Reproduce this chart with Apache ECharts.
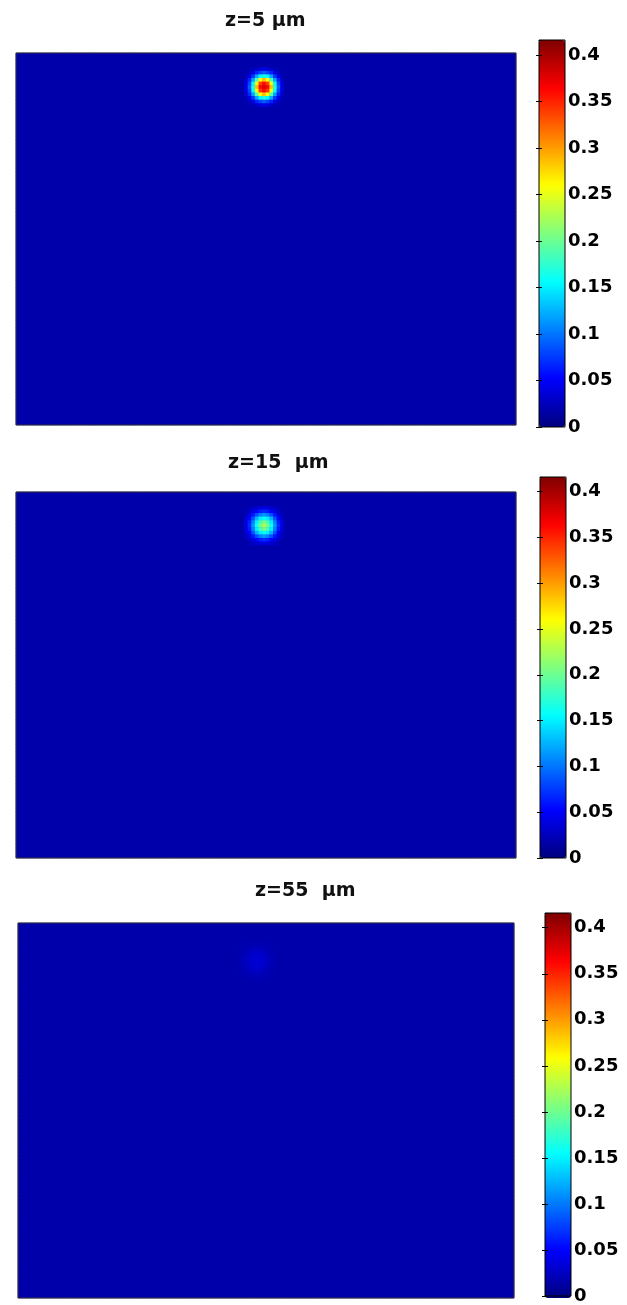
<!DOCTYPE html>
<html>
<head>
<meta charset="utf-8">
<script src="https://cdn.jsdelivr.net/npm/echarts@6/dist/echarts.min.js"></script>
<style>
  html, body { margin: 0; padding: 0; background: #fff; }
  #chart { width: 627px; height: 1305px; }
</style>
</head>
<body>
<div id="chart"></div>
<script>
  // field intensity at three propagation distances
  const titles = ['z=5 µm', 'z=15  µm', 'z=55  µm'];
  const tickLabels = ['0', '0.05', '0.1', '0.15', '0.2', '0.25', '0.3', '0.35', '0.4'];
  const colorMax = 0.416;
  const cols = 138;
  const rows = 103;
  const background = 0.018;
  // cell (column, row) where each 11x11 spot patch is centred
  const spotCentres = [[68, 9], [68, 9], [66, 10]];

  const spot5 = [
    [.018, .020, .024, .030, .038, .040, .038, .030, .024, .020, .018],
    [.020, .025, .040, .065, .080, .090, .080, .065, .040, .025, .020],
    [.024, .040, .075, .120, .155, .170, .155, .120, .075, .040, .024],
    [.030, .065, .120, .190, .260, .285, .260, .190, .120, .065, .030],
    [.038, .080, .155, .260, .340, .360, .340, .260, .155, .080, .038],
    [.040, .090, .170, .285, .360, .380, .360, .285, .170, .090, .040],
    [.038, .080, .155, .260, .340, .360, .340, .260, .155, .080, .038],
    [.030, .065, .120, .190, .260, .285, .260, .190, .120, .065, .030],
    [.024, .040, .075, .120, .155, .170, .155, .120, .075, .040, .024],
    [.020, .025, .040, .065, .080, .090, .080, .065, .040, .025, .020],
    [.018, .020, .024, .030, .038, .040, .038, .030, .024, .020, .018]
  ];
  const spot15 = [
    [.018, .021, .026, .032, .038, .040, .038, .032, .026, .021, .018],
    [.021, .028, .040, .052, .063, .068, .063, .052, .040, .028, .021],
    [.026, .040, .060, .085, .105, .115, .105, .085, .060, .040, .026],
    [.032, .052, .085, .125, .150, .160, .150, .125, .085, .052, .032],
    [.038, .063, .105, .150, .185, .205, .185, .150, .105, .063, .038],
    [.040, .068, .115, .160, .205, .225, .205, .160, .115, .068, .040],
    [.038, .063, .105, .150, .185, .205, .185, .150, .105, .063, .038],
    [.032, .052, .085, .125, .150, .160, .150, .125, .085, .052, .032],
    [.026, .040, .060, .085, .105, .115, .105, .085, .060, .040, .026],
    [.021, .028, .040, .052, .063, .068, .063, .052, .040, .028, .021],
    [.018, .021, .026, .032, .038, .040, .038, .032, .026, .021, .018]
  ];
  const spot55 = [
    [.018, .018, .019, .019, .020, .020, .020, .019, .019, .018, .018],
    [.018, .019, .020, .021, .022, .023, .022, .021, .020, .019, .018],
    [.019, .020, .022, .024, .026, .027, .026, .024, .022, .020, .019],
    [.019, .021, .024, .028, .030, .031, .030, .028, .024, .021, .019],
    [.020, .022, .026, .030, .033, .034, .033, .030, .026, .022, .020],
    [.020, .023, .027, .031, .034, .035, .034, .031, .027, .023, .020],
    [.020, .022, .026, .030, .033, .034, .033, .030, .026, .022, .020],
    [.019, .021, .024, .028, .030, .031, .030, .028, .024, .021, .019],
    [.019, .020, .022, .024, .026, .027, .026, .024, .022, .020, .019],
    [.018, .019, .020, .021, .022, .023, .022, .021, .020, .019, .018],
    [.018, .018, .019, .019, .020, .020, .020, .019, .019, .018, .018]
  ];
  const spots = [spot5, spot15, spot55];

  const jet = ['#00007f', '#0000ff', '#007fff', '#00ffff', '#7fff7f', '#ffff00', '#ff7f00', '#ff0000', '#7f0000'];

  // pixel layout of each panel
  const panels = [
    { map: [16, 53, 500, 372], bar: [539, 40, 26, 387], title: [225, 10] },
    { map: [16, 492, 500, 366], bar: [540, 477, 26, 381], title: [228, 452] },
    { map: [18, 923, 496, 375], bar: [545, 913, 26, 385], title: [255, 880] }
  ];

  function buildData(k) {
    const spot = spots[k];
    const [cx, cy] = spotCentres[k];
    const half = (spot.length - 1) / 2;
    const data = [];
    for (let r = 0; r < rows; r++) {
      for (let c = 0; c < cols; c++) {
        let v = background;
        const dr = r - cy + half, dc = c - cx + half;
        if (dr >= 0 && dr < spot.length && dc >= 0 && dc < spot.length) v = spot[dr][dc];
        data.push([c, r, v]);
      }
    }
    return data;
  }

  const colIdx = Array.from({ length: cols }, (_, i) => i);
  const rowIdx = Array.from({ length: rows }, (_, i) => i);
  const labelFont = { fontFamily: 'DejaVu Sans', fontWeight: 'bold', color: '#000' };
  const innerTick = { show: true, inside: true, length: 3, lineStyle: { color: '#000' } };

  const grid = [], xAxis = [], yAxis = [], series = [], visualMap = [], title = [];

  panels.forEach((p, k) => {
    // heat map
    grid.push({ left: p.map[0], top: p.map[1], width: p.map[2], height: p.map[3],
      show: true, backgroundColor: '#0000ac', borderWidth: 0 });
    xAxis.push({ gridIndex: k, type: 'category', data: colIdx, show: false });
    yAxis.push({ gridIndex: k, type: 'category', data: rowIdx, inverse: true, show: false });
    series.push({
      type: 'heatmap', xAxisIndex: k, yAxisIndex: k, data: buildData(k),
      progressive: 0, itemStyle: { borderWidth: 0 }, emphasis: { disabled: true }
    });
    visualMap.push({
      type: 'continuous', seriesIndex: k, min: 0, max: colorMax, calculable: false,
      left: p.bar[0], top: p.bar[1], itemWidth: p.bar[2], itemHeight: p.bar[3],
      padding: 0, inRange: { color: jet }, text: null, hoverLink: false
    });
    title.push({ text: titles[k], left: p.title[0], top: p.title[1], padding: 0,
      textStyle: { fontFamily: 'DejaVu Sans', fontWeight: 'bold', fontSize: 19, lineHeight: 22, color: '#111' } });
  });

  panels.forEach((p, k) => {
    // colour bar ticks and frame
    grid.push({ left: p.bar[0], top: p.bar[1], width: p.bar[2], height: p.bar[3],
      show: true, z: 10, backgroundColor: 'transparent', borderColor: '#000', borderWidth: 1 });
    xAxis.push({ gridIndex: 3 + k, type: 'value', show: false });
    yAxis.push({
      gridIndex: 3 + k, type: 'value', position: 'right', min: 0, max: colorMax, interval: 0.05, z: 11,
      axisLine: { show: false }, axisTick: innerTick, splitLine: { show: false },
      axisLabel: Object.assign({ fontSize: 18, margin: 3,
        formatter: v => tickLabels[Math.round(v / 0.05)] || '' }, labelFont)
    });
  });

  panels.forEach((p, k) => {
    // heat map frame on top, plus left-hand colour bar ticks
    grid.push({ left: p.map[0], top: p.map[1], width: p.map[2], height: p.map[3],
      show: true, z: 10, backgroundColor: 'transparent', borderColor: '#333', borderWidth: 1 });
    xAxis.push({ gridIndex: 6 + k, type: 'value', show: false });
    yAxis.push({ gridIndex: 6 + k, type: 'value', show: false });
  });

  panels.forEach((p, k) => {
    yAxis.push({
      gridIndex: 3 + k, type: 'value', position: 'left', min: 0, max: colorMax, interval: 0.05, z: 11,
      axisLine: { show: false }, axisTick: innerTick, splitLine: { show: false },
      axisLabel: { show: false }
    });
  });

  const chart = echarts.init(document.getElementById('chart'));
  chart.setOption({
    animation: false,
    title, grid, xAxis, yAxis, series, visualMap
  });
</script>
</body>
</html>
